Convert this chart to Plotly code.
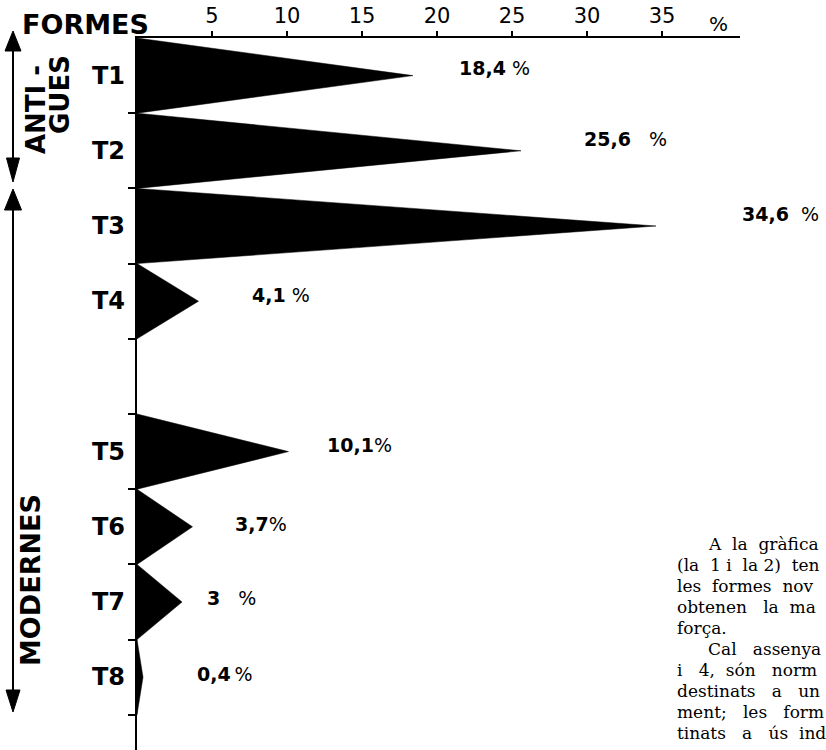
import plotly.graph_objects as go

# ---------------- data ----------------
categories = ["T1", "T2", "T3", "T4", "T5", "T6", "T7", "T8"]
groups = ["ANTIGUES", "ANTIGUES", "ANTIGUES", "ANTIGUES",
          "MODERNES", "MODERNES", "MODERNES", "MODERNES"]
values = [18.4, 25.6, 34.6, 4.1, 10.1, 3.7, 3.0, 0.4]
value_texts = ["18,4", "25,6", "34,6", "4,1", "10,1", "3,7", "3", "0,4"]
x_ticks = [5, 10, 15, 20, 25, 30, 35]

text_lines = ["A la gràfica", "(la 1 i la 2) ten", "les formes nov", "obtenen la ma",
              "força.", "Cal assenya", "i 4, són norm", "destinats a un",
              "ment; les form", "tinats a ús ind"]
text_indent = [True, False, False, False, False, True, False, False, False, False]
# extra (justification) spaces per word gap for each line
text_extra = [[1, 1], [1, 0, 1, 0, 1], [1, 1], [2, 1], [], [2], [2, 1, 2], [2, 2], [2, 2], [2, 2, 1]]

# ---------------- layout constants ----------------
W, H = 826, 750
ML, MR, MT, MB = 137, 86, 38, 0
PW, PH = W - ML - MR, H - MT - MB
X_MAX = 40.2
Y_MAX = PH / 75.2

NB = "\u00a0"
label_gap = [NB, NB * 3, NB * 2, NB, "", "", NB * 3, "\u2009"]
label_dx = [44, 61, 84, 51, 36, 40, 23, 52]
label_dy = [8, 12, 12, 6, 7, 3, 4, 3]

SANS = "DejaVu Sans, Liberation Sans, sans-serif"
SERIF = "DejaVu Serif, serif"


def px(xp):
    return (xp - ML) / PW


def py(yp):
    return (H - MB - yp) / PH


# band positions: one empty band between the two groups
positions = []
gap = 0
for i, g in enumerate(groups):
    if i > 0 and g != groups[i - 1]:
        gap += 1
    positions.append(i + gap)

# polygons
xs, ys = [], []
for v, p in zip(values, positions):
    xs += [0, v, 0, 0, None]
    ys += [p, p + 0.5, p + 1, p, None]

fig = go.Figure()
fig.add_trace(go.Scatter(x=xs, y=ys, mode="lines", fill="toself",
                         fillcolor="black", line=dict(color="black", width=0.5),
                         hoverinfo="skip", showlegend=False))

boundaries = sorted({b for p in positions for b in (p, p + 1)} - {0})

annotations = []
# category labels
for c, p in zip(categories, positions):
    annotations.append(dict(x=0, y=p + 0.5, xref="x", yref="y", text="<b>" + c + "</b>",
                            showarrow=False, xanchor="right", yanchor="middle", xshift=-10,
                            font=dict(family=SANS, size=24, color="black")))
# value labels
for v, p, t, gp, dx, dy in zip(values, positions, value_texts, label_gap, label_dx, label_dy):
    annotations.append(dict(x=v, y=p + 0.5, xref="x", yref="y",
                            text="<b>" + t + "</b>" + gp + "%",
                            showarrow=False, xanchor="left", yanchor="middle",
                            xshift=dx, yshift=dy,
                            font=dict(family=SANS, size=19, color="black")))
# header texts
annotations.append(dict(x=px(85), y=py(24), xref="paper", yref="paper", text="<b>FORMES</b>",
                        showarrow=False, xanchor="center", yanchor="middle",
                        font=dict(family=SANS, size=27, color="black")))
annotations.append(dict(x=px(718), y=py(24), xref="paper", yref="paper", text="%",
                        showarrow=False, xanchor="center", yanchor="middle",
                        font=dict(family=SANS, size=20, color="black")))
# rotated group labels
annotations.append(dict(x=px(36), y=py(110), xref="paper", yref="paper", text="<b>ANTI -</b>",
                        textangle=-90, showarrow=False, xanchor="center", yanchor="middle",
                        font=dict(family=SANS, size=26, color="black")))
annotations.append(dict(x=px(60), y=py(95), xref="paper", yref="paper", text="<b>GUES</b>",
                        textangle=-90, showarrow=False, xanchor="center", yanchor="middle",
                        font=dict(family=SANS, size=26, color="black")))
annotations.append(dict(x=px(30), y=py(580), xref="paper", yref="paper", text="<b>MODERNES</b>",
                        textangle=-90, showarrow=False, xanchor="center", yanchor="middle",
                        font=dict(family=SANS, size=27, color="black")))
# body text (bottom right)
for i, (t, ind, ex) in enumerate(zip(text_lines, text_indent, text_extra)):
    words = t.split(" ")
    s = words[0]
    for w, e in zip(words[1:], ex):
        s += NB * (1 + e) + w
    annotations.append(dict(x=px(706 if ind else 675), y=py(544 + 21 * i), xref="paper", yref="paper",
                            text=s, showarrow=False, xanchor="left", yanchor="middle",
                            font=dict(family=SERIF, size=17, color="black")))

# arrows on the left
shapes = []


def arrow(x, y_top_tip, y_top_base, hw_top, y_bot_base, y_bot_tip, hw_bot):
    shapes.append(dict(type="line", xref="paper", yref="paper",
                       x0=px(x), x1=px(x), y0=py(y_top_base), y1=py(y_bot_base),
                       line=dict(color="black", width=2)))
    for tip, base, hw in ((y_top_tip, y_top_base, hw_top), (y_bot_tip, y_bot_base, hw_bot)):
        path = "M {},{} L {},{} L {},{} Z".format(px(x), py(tip), px(x - hw), py(base), px(x + hw), py(base))
        shapes.append(dict(type="path", xref="paper", yref="paper", path=path,
                           fillcolor="black", line=dict(color="black", width=1)))


arrow(13, 31, 51, 8, 158, 182, 6.5)
arrow(13, 189, 210, 8.5, 690, 712, 7)

fig.update_layout(
    width=W, height=H,
    margin=dict(l=ML, r=MR, t=MT, b=MB, pad=0),
    paper_bgcolor="white", plot_bgcolor="white",
    showlegend=False,
    xaxis=dict(side="top", range=[0, X_MAX], tickvals=x_ticks, ticktext=[str(t) for t in x_ticks],
               ticks="outside", ticklen=5, tickwidth=1.5, tickcolor="black",
               showline=True, linecolor="black", linewidth=2, showgrid=False, zeroline=False,
               tickfont=dict(family=SANS, size=21, color="black"), automargin=False, fixedrange=True),
    yaxis=dict(range=[Y_MAX, 0], tickvals=boundaries, showticklabels=False,
               ticks="outside", ticklen=7, tickwidth=1.5, tickcolor="black",
               showline=True, linecolor="black", linewidth=2, showgrid=False, zeroline=False,
               automargin=False, fixedrange=True),
    annotations=annotations,
    shapes=shapes,
)

fig.write_html("out.html", config={"displayModeBar": False},
               post_script="document.body.style.margin='0';")
